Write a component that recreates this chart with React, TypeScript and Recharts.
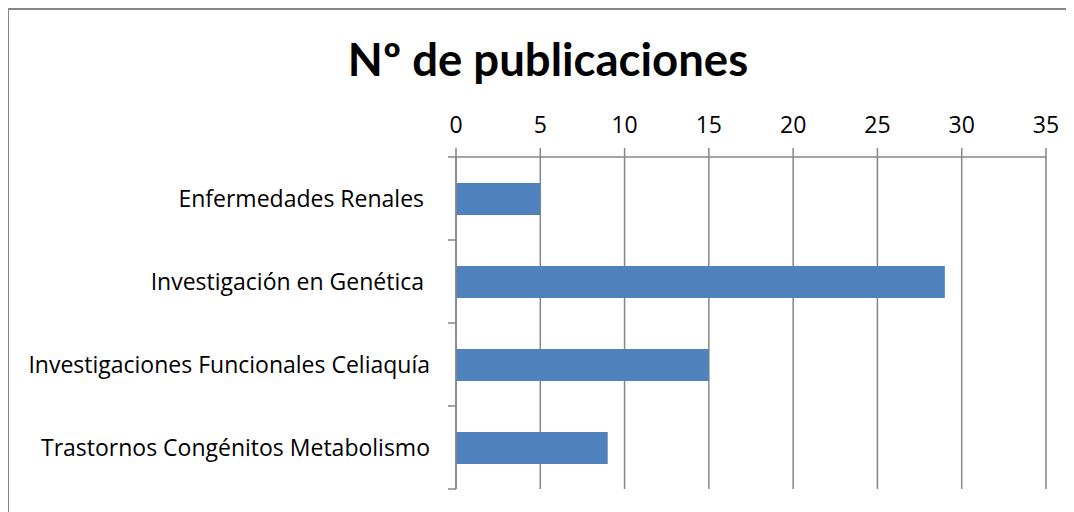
import { BarChart, Bar, XAxis, YAxis, CartesianGrid } from 'recharts'

const categories = [
  'Enfermedades Renales\u00a0',
  'Investigación en Genética\u00a0',
  'Investigaciones Funcionales Celiaquía',
  'Trastornos Congénitos Metabolismo',
]
const publications = [5, 29, 15, 9]
const xTicks = [0, 5, 10, 15, 20, 25, 30, 35]

const data = categories.map((name, i) => ({ name, value: publications[i] }))

const FONT = '"Open Sans", Lato, sans-serif'
const TITLE_FONT = 'Lato, "Open Sans", sans-serif'
const GRID = '#868686'
const CHART_W = 1066
const CHART_H = 504
const MARGIN = { top: 109, right: 28, bottom: 23, left: 0 }
const AXIS_W = 448
const PLOT_H = CHART_H - MARGIN.top - 40 - MARGIN.bottom

// category ticks sit on the band edges, like the spreadsheet chart
function CatTick({ x, y, payload, index }: any) {
  const band = PLOT_H / categories.length
  const axisX = x + 18
  return (
    <g>
      <line x1={axisX} x2={axisX + 8} y1={y - band / 2} y2={y - band / 2} stroke={GRID} strokeWidth={1.5} />
      {index === categories.length - 1 && (
        <line x1={axisX} x2={axisX + 8} y1={y + band / 2} y2={y + band / 2} stroke={GRID} strokeWidth={1.5} />
      )}
      <text x={x} y={y} dy={8} textAnchor="end" fill="#000" fontSize={23} fontFamily={FONT}>
        {payload.value}
      </text>
    </g>
  )
}

export default function App() {
  return (
    <div style={{ position: 'relative', width: CHART_W, height: CHART_H }}>
      <div style={{
        position: 'absolute', left: -1, top: 0, width: 1200, height: 700,
        borderLeft: `2px solid ${GRID}`, borderTop: `2px solid ${GRID}`,
        boxSizing: 'border-box',
      }} />
      <div style={{
        position: 'absolute', left: 0, top: 28, width: 1080, textAlign: 'center',
        fontFamily: TITLE_FONT, fontWeight: 700, fontSize: 45.5, lineHeight: 1, color: '#000',
      }}>
        Nº de publicaciones
      </div>
      <div style={{ position: 'absolute', left: 0, top: 0 }}>
        <BarChart
          width={CHART_W}
          height={CHART_H}
          data={data}
          layout="vertical"
          margin={MARGIN}
          barSize={32}
        >
          <CartesianGrid horizontal={false} stroke={GRID} strokeWidth={1.5} />
          <XAxis
            type="number"
            orientation="top"
            domain={[0, 35]}
            ticks={xTicks}
            height={40}
            tickSize={9}
            tickMargin={15}
            axisLine={{ stroke: GRID, strokeWidth: 1.5 }}
            tickLine={{ stroke: GRID, strokeWidth: 1.5 }}
            tick={{ fill: '#000', fontSize: 23, fontFamily: FONT }}
          />
          <YAxis
            type="category"
            dataKey="name"
            width={AXIS_W}
            tickLine={false}
            tickMargin={18}
            tickSize={8}
            axisLine={{ stroke: GRID, strokeWidth: 1.5 }}
            tick={<CatTick />}
            interval={0}
          />
          <Bar dataKey="value" fill="#4F81BD" isAnimationActive={false} />
        </BarChart>
      </div>
    </div>
  )
}
